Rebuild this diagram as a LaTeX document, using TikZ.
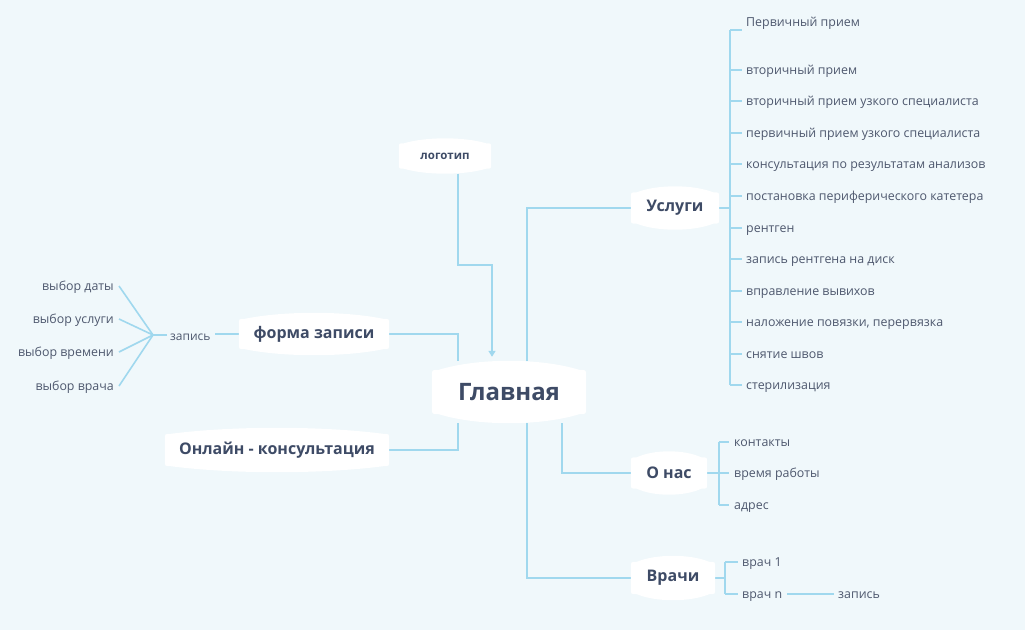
\documentclass[tikz,border=0pt]{standalone}
\usepackage{fontspec}
\setmainfont{Open Sans}
\usetikzlibrary{calc,backgrounds,arrows.meta}
\definecolor{bgc}{RGB}{240,248,251}
\definecolor{lnc}{RGB}{160,216,238}
\definecolor{txc}{RGB}{62,75,102}
\definecolor{txb}{RGB}{78,88,110}
\newcommand\blobshape[3]{%
 \fill[white] let \p1=(#1.north west), \p2=(#1.south east), \n1={0.3*(\x2-\x1)} in
 (\x1,\y1-#2-#3) -- (\x1,\y2+#2+#3) .. controls (\x1,\y2+#2) .. ({\x1+#3},{\y2+#2})
 .. controls ({\x1+\n1},{\y2-#2/3}) and ({\x2-\n1},{\y2-#2/3}) .. ({\x2-#3},{\y2+#2})
 .. controls (\x2,{\y2+#2}) .. (\x2,{\y2+#2+#3}) -- (\x2,{\y1-#2-#3})
 .. controls (\x2,{\y1-#2}) .. ({\x2-#3},{\y1-#2})
 .. controls ({\x2-\n1},{\y1+#2/3}) and ({\x1+\n1},{\y1+#2/3}) .. ({\x1+#3},{\y1-#2})
 .. controls (\x1,{\y1-#2}) .. cycle;}
\tikzset{
 title/.style={font=\bfseries\fontsize{16}{19}\selectfont, text=txc, inner sep=0pt},
 leaf/.style={font=\fontsize{12.4}{15}\selectfont, text=txb, inner sep=2pt, anchor=base west},
 leafr/.style={font=\fontsize{12.4}{15}\selectfont, text=txb, inner sep=2pt, anchor=base east},
 conn/.style={draw=lnc, line width=1.6pt},
}
\begin{document}
\begin{tikzpicture}[x=1pt,y=-1pt]
\path[use as bounding box] (0,0) rectangle (1025,630);
% main nodes
\node[title, font=\bfseries\fontsize{24}{28}\selectfont, minimum width=154pt, minimum height=62pt] (main) at (509,392) {Главная};
\node[title, font=\bfseries\fontsize{11.5}{14}\selectfont, minimum width=92pt, minimum height=35pt] (logo) at (445,156) {логотип};
\node[title, minimum width=88pt, minimum height=43pt] (usl) at (675,208) {Услуги};
\node[title, minimum width=76pt, minimum height=43pt] (onas) at (669,473) {О нас};
\node[title, minimum width=84pt, minimum height=44pt] (vrachi) at (673,578) {Врачи};
\node[title, minimum width=150pt, minimum height=42pt] (fz) at (314,334) {форма записи};
\node[title, minimum width=224pt, minimum height=44pt] (onl) at (277,450) {Онлайн - консультация};
% Services leaves
\node[leaf] (u1) at (744,26) {Первичный прием};
\coordinate (u1s) at (742,30);
\node[leaf] (u2) at (744,74) {вторичный прием};
\node[leaf] (u3) at (744,105) {вторичный прием узкого специалиста};
\node[leaf] (u4) at (744,137) {первичный прием узкого специалиста};
\node[leaf] (u5) at (744,168) {консультация по результатам анализов};
\node[leaf] (u6) at (744,200) {постановка периферического катетера};
\node[leaf] (u7) at (744,232) {рентген};
\node[leaf] (u8) at (744,263) {запись рентгена на диск};
\node[leaf] (u9) at (744,295) {вправление вывихов};
\node[leaf] (u10) at (744,326) {наложение повязки, перервязка};
\node[leaf] (u11) at (744,358) {снятие швов};
\node[leaf] (u12) at (744,389) {стерилизация};
\coordinate (ub1) at (730,30);
\coordinate (ub2) at (730,385);
% About leaves
\node[leaf] (a1) at (732,446) {контакты};
\node[leaf] (a2) at (732,477) {время работы};
\node[leaf] (a3) at (732,509) {адрес};
\coordinate (ab1) at (719,442);
\coordinate (ab2) at (719,505);
% Doctors leaves
\node[leaf] (d1) at (740,566) {врач 1};
\node[leaf] (d2) at (740,598) {врач n};
\node[leaf] (dz) at (836,598) {запись};
\coordinate (db1) at (725,562);
\coordinate (db2) at (725,594);
% Left leaves
\node[leaf, font=\fontsize{12}{14}\selectfont] (zl) at (168,340) {запись};
\coordinate (fan) at (153,335);
\node[leafr] (l1) at (116,290) {выбор даты};
\node[leafr] (l2) at (116,323) {выбор услуги};
\node[leafr] (l3) at (116,356) {выбор времени};
\node[leafr] (l4) at (116,390) {выбор врача};
\coordinate (lk) at (458,265);
\begin{scope}[on background layer]
\fill[bgc] (0,0) rectangle (1025,630);
% trunk connectors
\draw[conn, -{Triangle[width=7pt,length=6pt]}] ([xshift=13pt]logo.south) |- (lk) -| ([xshift=-17pt,yshift=4pt]main.north);
\draw[conn] ([xshift=18pt]main.north) |- (usl.west);
\draw[conn] (fz.east) -| ([xshift=-51pt]main.north);
\draw[conn] (onl.east) -| ([xshift=-51pt]main.south);
\draw[conn] ([xshift=53pt]main.south) |- (onas.west);
\draw[conn] ([xshift=18pt]main.south) |- (vrachi.west);
% services
\draw[conn] (usl.east) -- (usl.east -| ub1);
\draw[conn] (ub1) -- (ub2);
\draw[conn] (ub1) -- (u1s);
\foreach \i in {2,...,12} {\draw[conn] let \p1=(u\i.base west), \p2=(ub1) in (\x2,\y1+4pt) -- (\x1-2pt,\y1+4pt);}
% about
\draw[conn] (onas.east) -- (onas.east -| ab1);
\draw[conn] (ab1) -- (ab2);
\foreach \i in {1,2,3} {\draw[conn] let \p1=(a\i.base west), \p2=(ab1) in (\x2,\y1+4pt) -- (\x1-3pt,\y1+4pt);}
% doctors
\draw[conn] (vrachi.east) -- (vrachi.east -| db1);
\draw[conn] (db1) -- (db2);
\foreach \i in {1,2} {\draw[conn] let \p1=(d\i.base west), \p2=(db1) in (\x2,\y1+4pt) -- (\x1-2pt,\y1+4pt);}
\draw[conn] let \p1=(d2.base east), \p2=(dz.base west) in (\x1+3pt,\y1+4pt) -- (\x2-2pt,\y2+4pt);
% left
\draw[conn] let \p1=(fz.west), \p2=(zl.base east) in (\p1) -- (\x2+2pt,\y1);
\draw[conn] let \p1=(zl.base west), \p2=(fan) in (\x1-1pt,\y2) -- (fan);
\foreach \i in {1,...,4} {\draw[conn] let \p1=(l\i.base east) in (fan) -- (\x1+3pt,\y1+4pt);}
% shapes
\blobshape{main}{9pt}{7pt}
\blobshape{logo}{5pt}{5pt}
\blobshape{usl}{6pt}{6pt}
\blobshape{onas}{6pt}{6pt}
\blobshape{vrachi}{6pt}{6pt}
\blobshape{fz}{6pt}{6pt}
\blobshape{onl}{6pt}{6pt}
\end{scope}
\end{tikzpicture}
\end{document}
